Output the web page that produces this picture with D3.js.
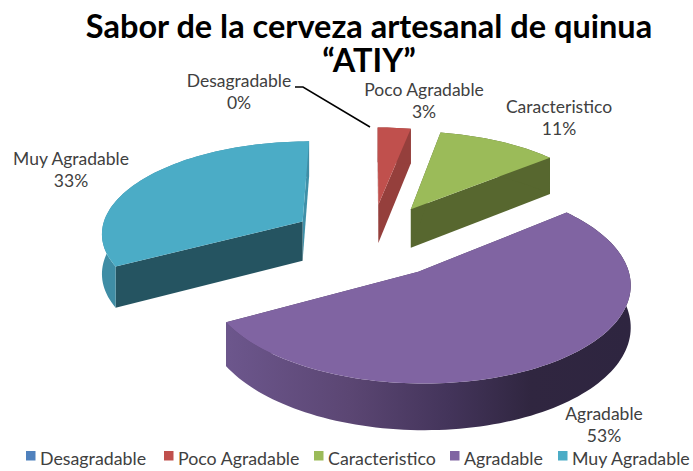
<!DOCTYPE html>
<html><head><meta charset="utf-8">
<script src="https://cdn.jsdelivr.net/npm/d3@7"></script>
<style>html,body{margin:0;padding:0;background:#fff}svg{display:block}text{font-family:Lato,"Open Sans",sans-serif}</style>
</head><body><svg id="c" width="693" height="471"></svg>
<script>
const categories = ["Desagradable","Poco Agradable","Caracteristico","Agradable","Muy Agradable"];
const values = [0,3,11,53,33];
const percentLabels = ["0%","3%","11%","53%","33%"];
const topColors = ["#4f81bd","#c0504d","#9bbb59","#8064a2","#4bacc6"];
const cutColorsEnd = ["#3c6290","#953f3c","#57672f","#4f3e66","#3f90a8"];
const cutColorsStart = ["#3c6290","#953f3c","#57672f","#4f3e66","#255461"];
const wallColors = ["#3c6290","#953f3c","#57672f","#4f3e66","#3f8da5"];
const titleLines = ["Sabor de la cerveza artesanal de quinua","“ATIY”"];
const labelPos = [[239,87],[424,96],[559,113],[604,420],[71,165]];
const legendX = [26,164,314,450,558];

const svg = d3.select("#c");
const cx=371, cy=240, B=203, A=92.5, H=40, c=0.107, explode=0.40;
const proj = (X,Y,z=0)=>{const p=1/(1-c*Y);return [cx+X*B*p, cy+(Y*A+z*H)*p];};
const pie = d3.pie().sort(null).value(d=>d).startAngle(0).endAngle(2*Math.PI);
const arcs = pie(values);
const line = d3.line().curve(d3.curveLinear);

const defs = svg.append("defs");
const grad = defs.append("linearGradient").attr("id","wallAgr").attr("gradientUnits","userSpaceOnUse")
  .attr("x1",229).attr("x2",631).attr("y1",0).attr("y2",0);
[[0,"#6c568c"],[0.3,"#5b4673"],[0.55,"#43345a"],[0.75,"#302640"],[1,"#2e2540"]].forEach(s=>grad.append("stop").attr("offset",s[0]).attr("stop-color",s[1]));

const g = svg.append("g");
[1,2,4,3].forEach(i=>{
  const a=arcs[i], mid=(a.startAngle+a.endAngle)/2;
  const ox=explode*Math.sin(mid), oy=-explode*Math.cos(mid);
  const n=Math.max(4,Math.ceil((a.endAngle-a.startAngle)/0.03));
  const angs=d3.range(n+1).map(k=>a.startAngle+(a.endAngle-a.startAngle)*k/n);
  const rim=z=>angs.map(t=>proj(ox+Math.sin(t),oy-Math.cos(t),z));
  const apex=z=>proj(ox,oy,z);
  const rt=rim(0), rb=rim(1);
  g.append("path").attr("d",line([apex(0),rt[n],rb[n],apex(1)])+"Z").attr("fill",cutColorsEnd[i]);
  g.append("path").attr("d",line([apex(0),rt[0],rb[0],apex(1)])+"Z").attr("fill",cutColorsStart[i]);
  g.append("path").attr("d",line(rt.concat(rb.slice().reverse()))+"Z")
    .attr("fill",i===3?"url(#wallAgr)":wallColors[i]);
  g.append("path").attr("d",line([apex(0)].concat(rt))+"Z").attr("fill",topColors[i]);
});

svg.append("path").attr("d",line([[295,87],[303,87],[370,127]])).attr("fill","none").attr("stroke","#000").attr("stroke-width",1.5);

svg.selectAll(".title").data(titleLines).join("text").attr("class","title")
  .attr("x",369).attr("y",(d,i)=>38+i*34).attr("text-anchor","middle")
  .attr("font-size",32.5).attr("font-weight",700).attr("fill","#000").text(d=>d);

categories.forEach((d,i)=>{
  const t=svg.append("text").attr("text-anchor","middle").attr("font-size",17.5).attr("fill","#404040");
  t.append("tspan").attr("x",labelPos[i][0]).attr("y",labelPos[i][1]).text(d);
  t.append("tspan").attr("x",labelPos[i][0]).attr("y",labelPos[i][1]+22).text(percentLabels[i]);
});

categories.forEach((d,i)=>{
  svg.append("rect").attr("x",legendX[i]).attr("y",451).attr("width",9.5).attr("height",9.5).attr("fill",topColors[i]);
  svg.append("text").attr("x",legendX[i]+14).attr("y",465).attr("font-size",17.8).attr("fill","#404040").text(d);
});
</script></body></html>
